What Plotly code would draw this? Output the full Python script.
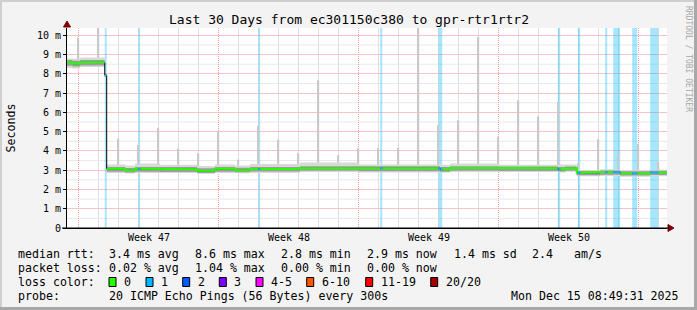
import pandas as pd
import plotly.graph_objects as go

# ---------------- data ----------------
title = "Last 30 Days from ec301150c380 to gpr-rtr1rtr2"
x_start = "2025-11-15 10:12:00"
x_end = "2025-12-15 10:12:00"
y_top = 10.38

# median RTT (ms) step segments: start time of each segment
seg_time = [
    "2025-11-15 10:12:00", "2025-11-15 16:48", "2025-11-16 02:00", "2025-11-17 07:30",
    "2025-11-17 09:50", "2025-11-18 07:55", "2025-11-18 19:55", "2025-11-20 01:55",
    "2025-11-21 22:19", "2025-11-22 19:55", "2025-11-23 19:55", "2025-11-24 13:55",
    "2025-11-27 01:55", "2025-11-30 00:00", "2025-12-04 01:55", "2025-12-04 13:55",
    "2025-12-07 00:00", "2025-12-09 23:31", "2025-12-10 07:55", "2025-12-10 21:50",
    "2025-12-12 01:55", "2025-12-13 01:55", "2025-12-14 13:55",
]
median = [8.60, 8.52, 8.60, 7.93, 3.07, 3.00, 3.07, 3.05, 2.97, 3.07, 3.00, 3.06,
          3.10, 3.10, 3.03, 3.12, 3.10, 3.03, 3.10, 2.87, 2.90, 2.83, 2.88]
core_lo = [8.42, 8.38, 8.44, 7.84, 2.92, 2.88, 2.92, 2.90, 2.86, 2.92, 2.89, 2.93,
           2.97, 2.95, 2.92, 2.97, 2.96, 2.93, 2.97, 2.74, 2.76, 2.72, 2.75]
core_hi = [8.72, 8.68, 8.72, 8.02, 3.17, 3.12, 3.17, 3.16, 3.10, 3.17, 3.13, 3.17,
           3.20, 3.20, 3.16, 3.21, 3.19, 3.16, 3.19, 2.96, 2.98, 2.94, 2.97]
smoke_lo = [8.30, 8.28, 8.35, 7.80, 2.85, 2.83, 2.86, 2.85, 2.82, 2.86, 2.84, 2.86,
            2.90, 2.88, 2.88, 2.90, 2.90, 2.88, 2.92, 2.68, 2.70, 2.66, 2.68]
smoke_hi = [8.80, 8.78, 8.85, 8.05, 3.30, 3.25, 3.35, 3.28, 3.22, 3.30, 3.25, 3.32,
            3.40, 3.30, 3.28, 3.35, 3.28, 3.30, 3.30, 3.00, 3.05, 3.00, 3.02]

# packet-loss periods (loss bucket "1")
loss_start = ["2025-11-17 07:30", "2025-11-19 00:00", "2025-11-25 00:00", "2025-12-01 02:00",
              "2025-12-04 00:00", "2025-12-09 23:15", "2025-12-10 23:15", "2025-12-12 08:00",
              "2025-12-12 17:40", "2025-12-13 16:25", "2025-12-14 14:00"]
loss_end = ["2025-11-17 09:50", "2025-11-19 02:00", "2025-11-25 02:00", "2025-12-01 04:30",
            "2025-12-04 04:30", "2025-12-10 02:00", "2025-12-11 02:00", "2025-12-12 10:30",
            "2025-12-13 02:00", "2025-12-13 22:25", "2025-12-14 23:40"]

# daily max-RTT spikes (ms)
spike_time = [str(d.date()) for d in pd.date_range("2025-11-16", "2025-12-15", freq="D")]
spike_max = [9.88, 10.5, 4.64, 4.30, 5.20, 4.12, 3.87, 4.99, 3.55, 5.30, 4.59, 3.87, 7.67,
             3.78, 4.16, 4.16, 4.16, 10.5, 5.34, 5.60, 9.91, 4.73, 6.63, 5.80, 6.54, 3.35,
             4.61, 3.78, 4.38, 3.43]

week_label_time = ["2025-11-19 12:00", "2025-11-26 12:00", "2025-12-03 12:00", "2025-12-10 12:00"]
week_labels = ["Week 47", "Week 48", "Week 49", "Week 50"]
y_tickvals = list(range(11))
y_ticktext = ["0"] + [f"{v} m" for v in range(1, 11)]

rtt_stats = ["3.4 ms avg", "8.6 ms max", "2.8 ms min", "2.9 ms now", "1.4 ms sd", "2.4", "am/s"]
loss_stats = ["0.02 % avg", "1.04 % max", "0.00 % min", "0.00 % now"]
loss_labels = ["0", "1", "2", "3", "4-5", "6-10", "11-19", "20/20"]
loss_colors = ["#26ff00", "#00b8ff", "#0059ff", "#7e00ff", "#ff00ff", "#ff5500", "#ff0000", "#a10000"]
probe_text = "20 ICMP Echo Pings (56 Bytes) every 300s"
stamp_text = "Mon Dec 15 08:49:31 2025"

# ---------------- helpers ----------------
MONO = "DejaVu Sans Mono"
L, T, PW, PH = 67, 28, 600, 200


def PX(px):
    return (px - L) / PW


def PY(py):
    return (T + PH - py) / PH


def ts(seq):
    return [pd.Timestamp(s) for s in seq]


t_seg = ts(seg_time) + [pd.Timestamp(x_end)]
ls = ts(loss_start)
le = ts(loss_end)


def med_at(t):
    idx = max(i for i in range(len(seg_time)) if t_seg[i] <= t)
    return median[idx]


def step(vals):
    return vals + [vals[-1]]


fig = go.Figure()

# loss background bands
lmid = [s + (e - s) / 2 for s, e in zip(ls, le)]
lwid = [(e - s).total_seconds() * 1000 for s, e in zip(ls, le)]
fig.add_trace(go.Bar(x=lmid, y=[y_top] * len(lmid), width=lwid, base=0,
                     marker=dict(color="rgba(0,184,255,0.35)", line=dict(width=0)),
                     hoverinfo="skip"))

# spikes
st = ts(spike_time)
sbase = [med_at(t) for t in st]
fig.add_trace(go.Bar(x=st, y=[m - b for m, b in zip(spike_max, sbase)], base=sbase,
                     width=1.6 * 3600 * 1000,
                     marker=dict(color="#c9c9c9", line=dict(width=0)), hoverinfo="skip"))

# smoke
for lo, hi, col in [(smoke_lo, smoke_hi, "#d8d8d8"), (core_lo, core_hi, "#9c9c9c")]:
    fig.add_trace(go.Scatter(x=t_seg, y=step(lo), mode="lines", line=dict(width=0, shape="hv"),
                             hoverinfo="skip"))
    fig.add_trace(go.Scatter(x=t_seg, y=step(hi), mode="lines", line=dict(width=0, shape="hv"),
                             fill="tonexty", fillcolor=col, hoverinfo="skip"))

# black median (full)
fig.add_trace(go.Scatter(x=t_seg, y=step(median), mode="lines",
                         line=dict(color="black", width=1, shape="hv"), hoverinfo="skip"))

# green / loss-coloured median
events = sorted(set(t_seg) | set(ls) | set(le))
gx, gy, bx, by = [], [], [], []
prev_green = False
for a, b in zip(events[:-1], events[1:]):
    v = med_at(a)
    lossy = any(s <= a and b <= e for s, e in zip(ls, le))
    if lossy:
        bx += [a, b, None]
        by += [v, v, None]
        if prev_green:
            gx.append(None)
            gy.append(None)
        prev_green = False
    else:
        gx += [a, b]
        gy += [v, v]
        prev_green = True
fig.add_trace(go.Scatter(x=gx, y=gy, mode="lines", line=dict(color=loss_colors[0], width=2),
                         hoverinfo="skip"))
fig.add_trace(go.Scatter(x=bx, y=by, mode="lines", line=dict(color=loss_colors[1], width=2),
                         hoverinfo="skip"))

GRID_RED = "#f2a0a0"

fig.update_layout(
    width=697, height=310,
    margin=dict(l=L, r=697 - L - PW, t=T, b=310 - T - PH, autoexpand=False),
    paper_bgcolor="#f3f3f3", plot_bgcolor="white",
    showlegend=False, barmode="overlay",
    font=dict(family=MONO, size=10, color="black"),
    xaxis=dict(type="date", range=[x_start, x_end], tick0="2025-11-16", dtick=7 * 86400000,
               showgrid=True, gridcolor=GRID_RED, gridwidth=1, griddash="1px,1px",
               showticklabels=False, ticks="",
               showline=True, linecolor="black", linewidth=1, zeroline=False),
    yaxis=dict(range=[0, y_top], tickmode="array", tickvals=y_tickvals, ticktext=y_ticktext,
               showgrid=True, gridcolor="#f6c4c4", gridwidth=1, griddash="solid",
               ticks="outside", ticklen=3, tickcolor="black",
               showline=True, linecolor="black", linewidth=1, zeroline=False,
               tickfont=dict(family=MONO, size=10, color="black")),
)

shapes = []
# minor grid (daily verticals, half-ms horizontals) beneath everything
for d in pd.date_range("2025-11-16", "2025-12-15", freq="D"):
    if d.dayofweek != 6:
        shapes.append(dict(type="line", xref="x", yref="paper", x0=d, x1=d, y0=0, y1=1,
                           layer="below", line=dict(color="#dedede", width=1)))
for k in range(1, 21, 2):
    v = k * 0.5
    shapes.append(dict(type="line", xref="paper", yref="y", x0=0, x1=1, y0=v, y1=v,
                       layer="below", line=dict(color="#e8e8e8", width=1)))

ann = []


def text(s, px, py, size=11.6, xanchor="left", color="black", angle=0):
    ann.append(dict(text=s, x=PX(px), y=PY(py), xref="paper", yref="paper", showarrow=False,
                    xanchor=xanchor, yanchor="middle", textangle=angle,
                    font=dict(family=MONO, size=size, color=color)))


# week labels on the time axis
for t, lab in zip(week_label_time, week_labels):
    ann.append(dict(text=lab, x=t, xref="x", y=PY(237.5), yref="paper", showarrow=False,
                    xanchor="center", yanchor="middle", font=dict(family=MONO, size=10, color="black")))

text(title, 348.5, 19, size=13, xanchor="center")
text("Seconds", 10.5, 128, size=11.6, xanchor="center", angle=-90)
text("RRDTOOL / TOBI OETIKER", 689, 59, size=8, xanchor="center", color="#a8a8a8", angle=90)

row1, row2, row3, row4 = 254, 268, 282, 296
text("median rtt:", 16, row1)
for s, px in zip(rtt_stats, [107, 193, 279, 365, 451.5, 530, 571.5]):
    text(s, px, row1)
text("packet loss:", 16, row2)
for s, px in zip(loss_stats, [107, 193, 279, 365]):
    text(s, px, row2)
text("loss color:", 16, row3)
box_x = [109, 146, 182.7, 219.3, 256, 306.7, 365.7, 430.7]
for lab, col, bx0 in zip(loss_labels, loss_colors, box_x):
    shapes.append(dict(type="rect", xref="paper", yref="paper",
                       x0=PX(bx0), x1=PX(bx0 + 7), y0=PY(row3 + 4.5), y1=PY(row3 - 4.5),
                       fillcolor=col, line=dict(color="black", width=1)))
    text(lab, bx0 + 13, row3)
text("probe:", 16, row4)
text(probe_text, 107, row4)
text(stamp_text, 681, row4, xanchor="right")

# axis arrows
ar = "#7f0000"
shapes.append(dict(type="path", xref="paper", yref="paper", fillcolor=ar, line=dict(color=ar, width=1),
                   path=f"M {PX(63.5)} {PY(27)} L {PX(70.5)} {PY(27)} L {PX(67)} {PY(21)} Z"))
shapes.append(dict(type="path", xref="paper", yref="paper", fillcolor=ar, line=dict(color=ar, width=1),
                   path=f"M {PX(668)} {PY(224.5)} L {PX(668)} {PY(231.5)} L {PX(674)} {PY(228)} Z"))
shapes.append(dict(type="line", xref="paper", yref="paper", x0=PX(62), x1=PX(669), y0=PY(228), y1=PY(228),
                   line=dict(color="black", width=1)))
# frame
for x0, x1, y0, y1, c in [(0, 697, 0, 2, "#cfcfcf"), (0, 2, 0, 310, "#cfcfcf"),
                          (694, 697, 0, 310, "#a8a8a8"), (0, 697, 307, 310, "#a8a8a8")]:
    shapes.append(dict(type="rect", xref="paper", yref="paper", x0=PX(x0), x1=PX(x1),
                       y0=PY(y1), y1=PY(y0), fillcolor=c, line=dict(width=0)))

fig.update_layout(annotations=ann, shapes=shapes)
fig.write_html("out.html")
